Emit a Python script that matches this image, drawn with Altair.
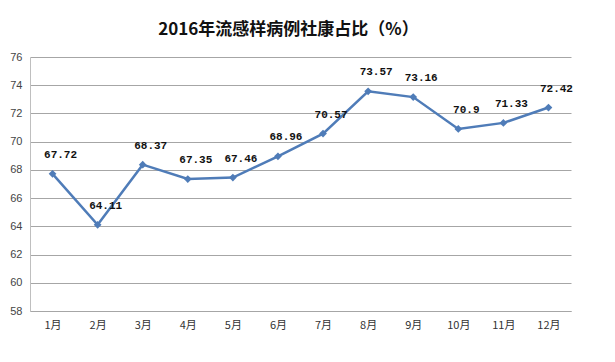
import altair as alt
import pandas as pd

months = ["1月", "2月", "3月", "4月", "5月", "6月", "7月", "8月", "9月", "10月", "11月", "12月"]
values = [67.72, 64.11, 68.37, 67.35, 67.46, 68.96, 70.57, 73.57, 73.16, 70.9, 71.33, 72.42]
labels = ["67.72", "64.11", "68.37", "67.35", "67.46", "68.96", "70.57", "73.57", "73.16", "70.9", "71.33", "72.42"]
y_ticks = [58, 60, 62, 64, 66, 68, 70, 72, 74, 76]

df = pd.DataFrame({"month": months, "value": values, "label": labels})

color = "#4f7cb8"
cjk = "Noto Sans CJK SC"

x = alt.X("month:N", sort=months, title=None,
          axis=alt.Axis(labelAngle=0, labelFont=cjk, labelFontSize=11, labelColor="#333333",
                        ticks=False, domainColor="#a6a6a6", labelPadding=8, grid=False))
y = alt.Y("value:Q", title=None,
          scale=alt.Scale(domain=[58, 76], nice=False, zero=False),
          axis=alt.Axis(values=y_ticks, labelFont="Liberation Sans", labelFontSize=11,
                        labelColor="#444444", ticks=False, labelPadding=8,
                        domainColor="#bfbfbf", gridColor="#a6a6a6", gridWidth=1))

base = alt.Chart(df)

line = base.mark_line(color=color, strokeWidth=2.5,
                      point=alt.OverlayMarkDef(shape="diamond", size=60, color=color, filled=True)
                      ).encode(x=x, y=y)

text = base.mark_text(font="Liberation Mono", fontSize=11, fontWeight="bold", color="#111111",
                      dx=8, dy=-19).encode(x=x, y=y, text="label:N")

chart = (line + text).properties(
    width=541, height=254,
    title=alt.TitleParams("2016年流感样病例社康占比（%）", font=cjk, fontSize=17,
                          fontWeight="bold", color="#111111", anchor="middle", offset=12, dx=-12),
    autosize=alt.AutoSizeParams(type="none"),
    padding={"left": 22, "top": 49, "right": 36, "bottom": 43},
    background="white",
).configure_view(stroke=None)

chart.save("out.html", embed_options={"renderer": "svg", "actions": False})
